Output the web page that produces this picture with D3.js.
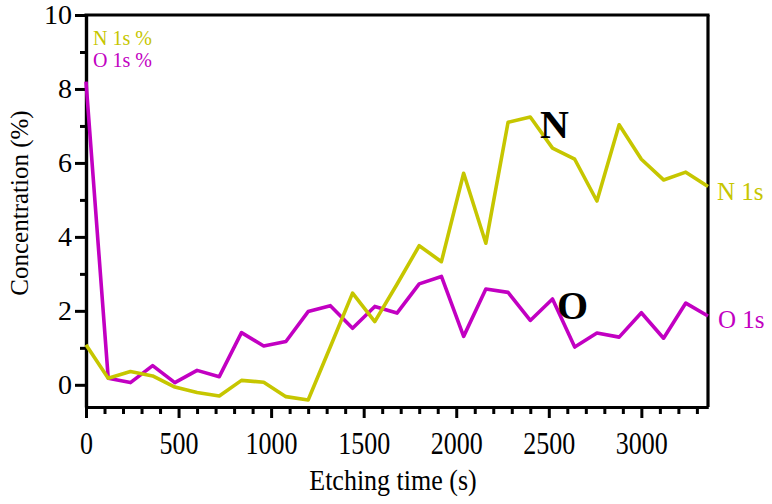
<!DOCTYPE html>
<html>
<head>
<meta charset="utf-8">
<script src="https://cdn.jsdelivr.net/npm/d3@7/dist/d3.min.js"></script>
<style>
  html, body { margin: 0; padding: 0; background: #ffffff; }
  svg { display: block; }
  text { font-family: "Liberation Serif", "Times New Roman", serif; }
</style>
</head>
<body>
<svg id="chart" width="772" height="504"></svg>
<script>
// ---- data ----
const times = [0, 120, 240, 360, 480, 600, 720, 840, 960, 1080, 1200, 1320, 1440, 1560, 1680,
               1800, 1920, 2040, 2160, 2280, 2400, 2520, 2640, 2760, 2880, 3000, 3120, 3240, 3360];
const n1s = [1.08, 0.18, 0.36, 0.24, -0.06, -0.21, -0.30, 0.12, 0.07, -0.32, -0.41, 1.03, 2.48, 1.71, 2.72,
             3.76, 3.33, 5.72, 3.83, 7.10, 7.24, 6.40, 6.10, 4.97, 7.03, 6.10, 5.54, 5.75, 5.36];
const o1s = [8.20, 0.18, 0.06, 0.52, 0.06, 0.39, 0.22, 1.41, 1.05, 1.17, 1.98, 2.14, 1.53, 2.12, 1.94,
             2.73, 2.93, 1.31, 2.59, 2.50, 1.74, 2.32, 1.02, 1.40, 1.29, 1.95, 1.26, 2.21, 1.86];
const seriesNames = ["N 1s %", "O 1s %"];
const endLabels = ["N 1s", "O 1s"];
const peakLabels = ["N", "O"];
const xMajorTicks = [0, 500, 1000, 1500, 2000, 2500, 3000];
const xMinorTicks = [100, 200, 300, 400, 600, 700, 800, 900, 1100, 1200, 1300, 1400, 1600, 1700, 1800, 1900,
                     2100, 2200, 2300, 2400, 2600, 2700, 2800, 2900, 3100, 3200, 3300];
const yMajorTicks = [0, 2, 4, 6, 8, 10];
const yMinorTicks = [1, 3, 5, 7, 9];
const xTitle = "Etching time (s)";
const yTitle = "Concentration (%)";

// ---- layout ----
const colN = "#c6c600";
const colO = "#c200c2";
const L = 86, R = 708, T = 15, B = 407;

const svg = d3.select("#chart");
const x = d3.scaleLinear().domain([0, 3360]).range([L, R]);
const y = d3.scaleLinear().domain([-0.6, 10]).range([B, T]);

const axisStyle = g => {
  g.selectAll("path.domain").attr("stroke", "#000").attr("stroke-width", 3.2);
  g.selectAll(".tick line").attr("stroke", "#000").attr("stroke-width", 3);
  g.selectAll(".tick text").attr("fill", "#000").style("font-family", '"Liberation Serif", "Times New Roman", serif');
};

// frame top & right
svg.append("line").attr("x1", L - 1.5).attr("x2", R + 1.5).attr("y1", T).attr("y2", T)
  .attr("stroke", "#000").attr("stroke-width", 3.2);
svg.append("line").attr("x1", R).attr("x2", R).attr("y1", T).attr("y2", B)
  .attr("stroke", "#000").attr("stroke-width", 3.2);

// y axis minor
svg.append("g").attr("transform", `translate(${L},0)`)
  .call(d3.axisLeft(y).tickValues(yMinorTicks).tickSize(6).tickSizeOuter(0).tickFormat(""))
  .call(axisStyle);
// y axis major
svg.append("g").attr("transform", `translate(${L},0)`)
  .call(d3.axisLeft(y).tickValues(yMajorTicks).tickSize(11).tickSizeOuter(0).tickPadding(3).tickFormat(d3.format("d")))
  .call(axisStyle)
  .call(g => g.selectAll(".tick text").attr("font-size", 28));

// x axis minor
svg.append("g").attr("transform", `translate(0,${B})`)
  .call(d3.axisBottom(x).tickValues(xMinorTicks).tickSize(7).tickSizeOuter(0).tickFormat(""))
  .call(axisStyle);
// x axis major
const xg = svg.append("g").attr("transform", `translate(0,${B})`)
  .call(d3.axisBottom(x).tickValues(xMajorTicks).tickSize(11).tickSizeOuter(0).tickFormat(d3.format("d")))
  .call(axisStyle);
// taller, slightly condensed tick labels as in the reference
xg.selectAll(".tick text")
  .attr("font-size", 26)
  .attr("y", null).attr("dy", null)
  .attr("transform", "translate(0,47) scale(1,1.22)");

// axis titles
svg.append("text").attr("transform", "translate(393,490) scale(1,1.1)").attr("text-anchor", "middle")
  .attr("font-size", 26).attr("fill", "#000").text(xTitle);
svg.append("text").attr("transform", `translate(28,${203}) rotate(-90)`).attr("text-anchor", "middle")
  .attr("font-size", 25).attr("fill", "#000").text(yTitle);

// lines
const pts = vals => times.map((t, i) => [t, vals[i]]);
const line = d3.line().x(d => x(d[0])).y(d => y(d[1]));
svg.append("path").datum(pts(o1s)).attr("d", line).attr("fill", "none")
  .attr("stroke", colO).attr("stroke-width", 3.6).attr("stroke-linejoin", "round");
svg.append("path").datum(pts(n1s)).attr("d", line).attr("fill", "none")
  .attr("stroke", colN).attr("stroke-width", 3.6).attr("stroke-linejoin", "round");

// legend
svg.append("text").attr("x", 93).attr("y", 45).attr("font-size", 20).attr("fill", colN).text(seriesNames[0]);
svg.append("text").attr("x", 93).attr("y", 67).attr("font-size", 20).attr("fill", colO).text(seriesNames[1]);

// end labels
svg.append("text").attr("x", 717).attr("y", y(n1s[n1s.length - 1]) + 13).attr("font-size", 25)
  .attr("fill", colN).text(endLabels[0]);
svg.append("text").attr("x", 718).attr("y", y(o1s[o1s.length - 1]) + 12).attr("font-size", 25)
  .attr("fill", colO).text(endLabels[1]);

// peak annotations
svg.append("text").attr("x", 540).attr("y", 138).attr("font-size", 40).attr("font-weight", "bold")
  .attr("fill", "#000").text(peakLabels[0]);
svg.append("text").attr("x", 557).attr("y", 319).attr("font-size", 40).attr("font-weight", "bold")
  .attr("fill", "#000").text(peakLabels[1]);
</script>
</body>
</html>
